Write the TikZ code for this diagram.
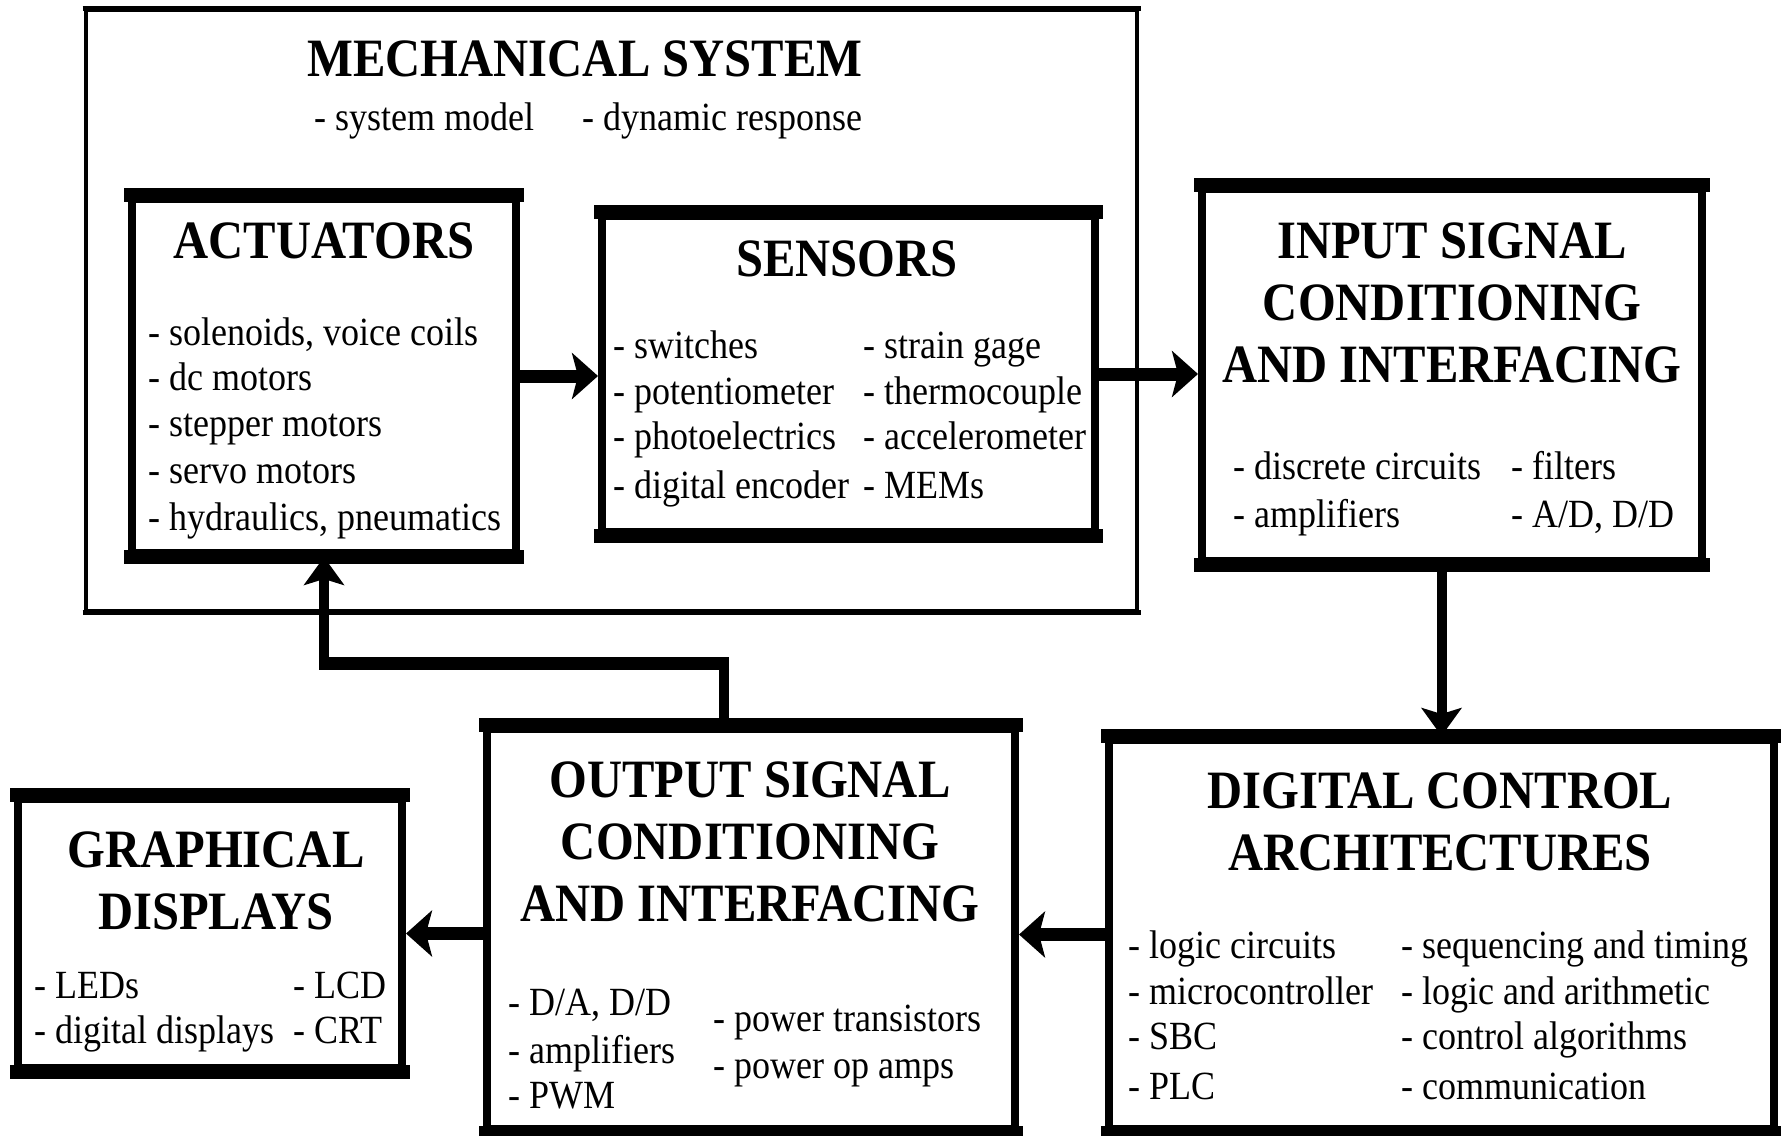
\documentclass[tikz,border=0pt]{standalone}
\usepackage{fontspec}
\setmainfont{Liberation Serif}[FakeStretch=0.9]
\usetikzlibrary{fit,arrows.meta}
\begin{document}
\begin{tikzpicture}[x=0.5pt,y=-0.5pt,
  bx/.style={draw, line width=4pt, inner sep=0pt},
  hedge/.style={line width=7pt, line cap=butt, shorten <=-2pt, shorten >=-2pt},
  mechbox/.style={draw, line width=1.75pt, inner sep=0pt},
  mechedge/.style={line width=2.5pt, line cap=butt, shorten <=-0.875pt, shorten >=-0.875pt},
  ttl/.style={font=\fontsize{27}{31}\selectfont\bfseries, align=center, inner sep=0pt},
  itm/.style={font=\fontsize{20}{23}\selectfont, anchor=west, inner sep=0pt, text height=12.6pt, text depth=0pt},
  hconn/.style={line width=6.5pt, -{Stealth[length=13pt,width=23pt,inset=3pt]}},
  vconn/.style={line width=5pt, line join=miter, -{Stealth[length=14pt,width=20pt,inset=3pt]}},
  hseg/.style={line width=6.5pt, line cap=butt, shorten <=-2.5pt, shorten >=-2.5pt}]
\useasboundingbox (0,0) rectangle (1781,1135);

% boxes
\node[mechbox, fit={(86,10) (1137,611)}] (mech) {};
\node[bx, fit={(132,199) (516,553)}] (act) {};
\node[bx, fit={(602,216) (1095,532)}] (sen) {};
\node[bx, fit={(1202,189) (1702,561)}] (inp) {};
\node[bx, fit={(1109,740) (1774,1129)}] (dig) {};
\node[bx, fit={(487,729) (1015,1129)}] (out) {};
\node[bx, fit={(18,799) (402,1068)}] (gra) {};
\draw[mechedge] (mech.north west) -- (mech.north east);
\draw[mechedge] (mech.south west) -- (mech.south east);
\foreach \b in {act,sen,inp,dig,out,gra}{
  \draw[hedge] (\b.north west) -- (\b.north east);
  \draw[hedge] (\b.south west) -- (\b.south east);
}

% mechanical system
\node[ttl] (mechT) at (585,59) {MECHANICAL SYSTEM};
\node[itm] (mech1) at (314,118) {- system model};
\node[itm] (mech2) at (582,118) {- dynamic response};

% actuators
\node[ttl] (actT) at (324,241) {ACTUATORS};
\node[itm] (act1) at (148,333) {- solenoids, voice coils};
\node[itm] (act2) at (148,378) {- dc motors};
\node[itm] (act3) at (148,424) {- stepper motors};
\node[itm] (act4) at (148,471) {- servo motors};
\node[itm] (act5) at (148,518) {- hydraulics, pneumatics};

% sensors
\node[ttl] (senT) at (847,259) {SENSORS};
\node[itm] (sen1) at (613,346) {- switches};
\node[itm] (sen2) at (613,392) {- potentiometer};
\node[itm] (sen3) at (613,437) {- photoelectrics};
\node[itm] (sen4) at (613,486) {- digital encoder};
\node[itm] (sen5) at (863,346) {- strain gage};
\node[itm] (sen6) at (863,392) {- thermocouple};
\node[itm] (sen7) at (863,437) {- accelerometer};
\node[itm] (sen8) at (863,486) {- MEMs};

% input
\node[ttl] (inpT) at (1452,303) {INPUT SIGNAL\\CONDITIONING\\AND INTERFACING};
\node[itm] (inp1) at (1233,467) {- discrete circuits};
\node[itm] (inp2) at (1233,515) {- amplifiers};
\node[itm] (inp3) at (1511,467) {- filters};
\node[itm] (inp4) at (1511,515) {- A/D, D/D};

% digital control
\node[ttl] (digT) at (1440,822) {DIGITAL CONTROL\\ARCHITECTURES};
\node[itm] (dig1) at (1128,946) {- logic circuits};
\node[itm] (dig2) at (1128,992) {- microcontroller};
\node[itm] (dig3) at (1128,1037) {- SBC};
\node[itm] (dig4) at (1128,1087) {- PLC};
\node[itm] (dig5) at (1401,946) {- sequencing and timing};
\node[itm] (dig6) at (1401,992) {- logic and arithmetic};
\node[itm] (dig7) at (1401,1037) {- control algorithms};
\node[itm] (dig8) at (1401,1087) {- communication};

% output
\node[ttl] (outT) at (750,842) {OUTPUT SIGNAL\\CONDITIONING\\AND INTERFACING};
\node[itm] (out1) at (508,1003) {- D/A, D/D};
\node[itm] (out2) at (508,1051) {- amplifiers};
\node[itm] (out3) at (508,1096) {- PWM};
\node[itm] (out4) at (713,1019) {- power transistors};
\node[itm] (out5) at (713,1066) {- power op amps};

% graphical
\node[ttl] (graT) at (216,881) {GRAPHICAL\\DISPLAYS};
\node[itm] (gra1) at (34,986) {- LEDs};
\node[itm] (gra2) at (34,1031) {- digital displays};
\node[itm] (gra3) at (293,986) {- LCD};
\node[itm] (gra4) at (293,1031) {- CRT};

% connectors
\coordinate (fbx) at (724,0);
\coordinate (fby) at (0,663);
\draw[hconn] (act.east) -- (act.east -| sen.west);
\draw[hconn] (sen.east) -- (sen.east -| inp.west);
\draw[vconn] (inp.south -| dig.north) -- (dig.north);
\draw[hconn] (dig.west) -- (dig.west -| out.east);
\draw[hconn] (out.west |- gra.east) -- (gra.east);
\draw[vconn] (out.north -| fbx) -- (fbx |- fby) -| (act.south);
\draw[hseg] (fbx |- fby) -- (act.south |- fby);
\end{tikzpicture}
\end{document}
